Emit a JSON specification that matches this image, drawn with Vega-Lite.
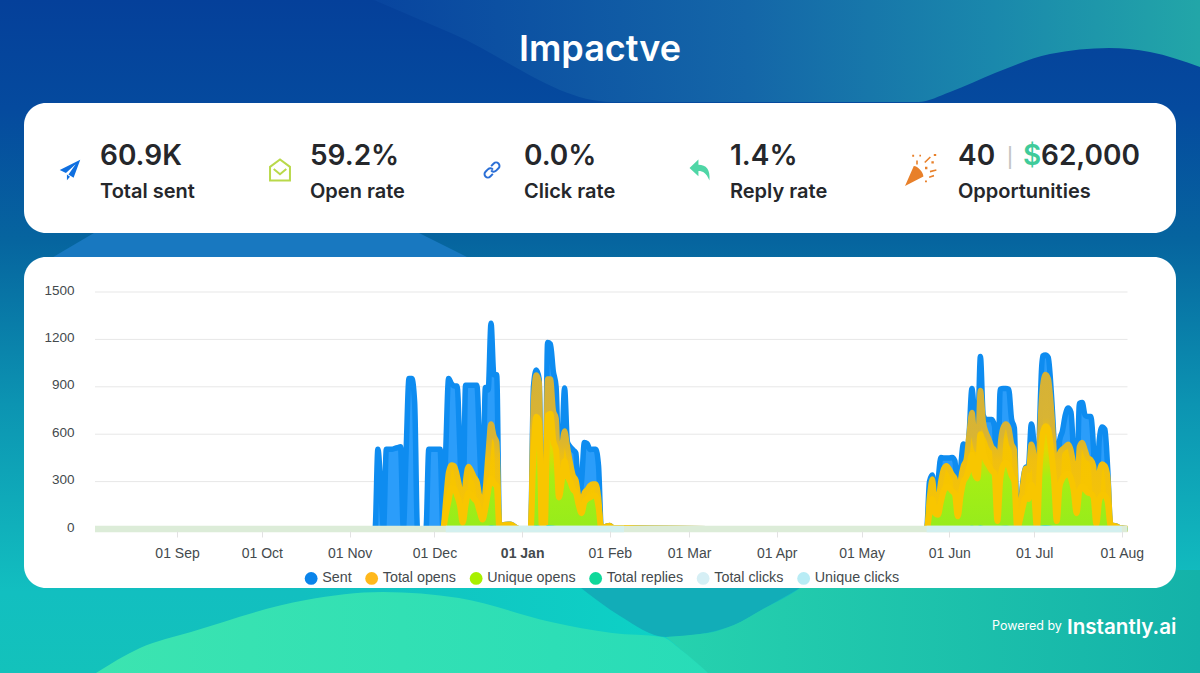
{"$schema":"https://vega.github.io/schema/vega-lite/v6.json","width":1200,"height":673,"padding":0,"autosize":{"type":"none"},"background":"#0a6aa8","config":{"view":{"stroke":null},"font":"Inter"},"resolve":{"scale":{"x":"independent","y":"independent","color":"independent"}},"layer":[
{"encoding":{"x":{"field":"x","type":"quantitative","axis":null,"scale":{"domain":[0,120],"range":[0,1200],"nice":false,"zero":false}},"y":{"field":"y","type":"quantitative","axis":null,"scale":{"domain":[0,67.3],"range":[0,673],"nice":false,"zero":false}},"y2":{"field":"y2"}},"layer":[
{"data":{"values":[{"x":0,"y":0,"y2":67.3},{"x":120,"y":0,"y2":67.3}]},"mark":{"type":"area","fill":{"gradient":"linear","x1":0,"y1":0,"x2":0,"y2":1,"stops":[{"offset":0,"color":"#05409a"},{"offset":0.16,"color":"#054a9e"},{"offset":0.36,"color":"#06659f"},{"offset":0.6,"color":"#0c94b2"},{"offset":0.88,"color":"#12bfc0"},{"offset":1,"color":"#13c2bb"}]}}},
{"data":{"values":[{"x":37.4,"y":0,"y2":0},{"x":45.1,"y":0,"y2":3.3},{"x":61.2,"y":0,"y2":10.2},{"x":91.8,"y":0,"y2":10.2},{"x":95,"y":0,"y2":9.2},{"x":99.5,"y":0,"y2":7.3},{"x":105,"y":0,"y2":5.4},{"x":110.9,"y":0,"y2":4.8},{"x":115,"y":0,"y2":5.2},{"x":120,"y":0,"y2":6.7}]},"mark":{"type":"area","interpolate":"monotone","fill":{"gradient":"linear","x1":0,"y1":0,"x2":1,"y2":0,"stops":[{"offset":0,"color":"#08459f"},{"offset":0.45,"color":"#1466a8"},{"offset":0.75,"color":"#1a88ac"},{"offset":1,"color":"#22a6a8"}]}}},
{"data":{"values":[{"x":4,"y":26.5,"y2":26.5},{"x":6,"y":25.3,"y2":26.5},{"x":9.9,"y":23,"y2":26.5},{"x":41.3,"y":23,"y2":26.5},{"x":46.7,"y":25.7,"y2":26.5},{"x":48,"y":26.5,"y2":26.5}]},"mark":{"type":"area","fill":"#1878c0"}},
{"data":{"values":[{"x":30,"y":57,"y2":67.3},{"x":68,"y":57,"y2":67.3}]},"mark":{"type":"area","fill":{"gradient":"linear","x1":0,"y1":0,"x2":1,"y2":0,"stops":[{"offset":0,"color":"#12bfc0"},{"offset":1,"color":"#0dd2c6"}]}}},
{"data":{"values":[{"x":58.1,"y":58,"y2":58.8},{"x":62,"y":58,"y2":61.6},{"x":66.6,"y":58,"y2":63.7},{"x":70,"y":58,"y2":63.4},{"x":73.4,"y":58,"y2":62.5},{"x":76.5,"y":58,"y2":60.8},{"x":80,"y":58,"y2":58.8}]},"mark":{"type":"area","interpolate":"monotone","fill":"#12adb8"}},
{"data":{"values":[{"x":66.6,"y":63.7,"y2":63.7},{"x":70,"y":63.4,"y2":66.6},{"x":70.8,"y":63.3,"y2":67.3},{"x":73.4,"y":62.5,"y2":67.3},{"x":76.5,"y":60.8,"y2":67.3},{"x":80,"y":58.8,"y2":67.3},{"x":82,"y":57,"y2":67.3},{"x":120,"y":57,"y2":67.3}]},"mark":{"type":"area","interpolate":"monotone","fill":{"gradient":"linear","x1":0,"y1":0,"x2":1,"y2":0,"stops":[{"offset":0,"color":"#26d2ae"},{"offset":1,"color":"#14b2a9"}]}}},
{"data":{"values":[{"x":9.6,"y":67.3,"y2":67.3},{"x":14,"y":64.8,"y2":67.3},{"x":19.1,"y":63.2,"y2":67.3},{"x":30.6,"y":60,"y2":67.3},{"x":38.3,"y":59.2,"y2":67.3},{"x":45.9,"y":59.8,"y2":67.3},{"x":55.1,"y":62.2,"y2":67.3},{"x":61.2,"y":63.3,"y2":67.3},{"x":66.2,"y":63.7,"y2":67.3},{"x":68,"y":64.9,"y2":67.3},{"x":70.8,"y":67.3,"y2":67.3}]},"mark":{"type":"area","interpolate":"monotone","fill":{"gradient":"linear","x1":0,"y1":0,"x2":1,"y2":0,"stops":[{"offset":0,"color":"#3ce4b0"},{"offset":1,"color":"#28dcb8"}]}}},
{"data":{"values":[{"panel":"Summary","left":2.4,"right":117.6,"top":10.3,"bottom":23.3},{"panel":"Chart","left":2.4,"right":117.6,"top":25.7,"bottom":58.8}]},"mark":{"type":"rect","fill":"#ffffff","cornerRadius":22},"encoding":{"x":{"field":"left","type":"quantitative","axis":null,"scale":{"domain":[0,120],"range":[0,1200],"nice":false,"zero":false}},"x2":{"field":"right"},"y":{"field":"top","type":"quantitative","axis":null,"scale":{"domain":[0,67.3],"range":[0,673],"nice":false,"zero":false}},"y2":{"field":"bottom"}}}
]},
{"data":{"values":[{"label":"Impactve"}]},"mark":{"type":"text","font":"Inter","fontSize":36,"fontWeight":600,"fill":"#ffffff","align":"center","baseline":"middle"},"encoding":{"text":{"field":"label"},"x":{"datum":60,"type":"quantitative","axis":null,"scale":{"domain":[0,120],"range":[0,1200],"nice":false,"zero":false}},"y":{"datum":5,"type":"quantitative","axis":null,"scale":{"domain":[0,67.3],"range":[0,673],"nice":false,"zero":false}}}},
{"data":{"values":[{"label":"Powered by"}]},"mark":{"type":"text","font":"Inter","fontSize":12.5,"fill":"#ffffff","align":"left","baseline":"middle"},"encoding":{"text":{"field":"label"},"x":{"datum":99.2,"type":"quantitative","axis":null,"scale":{"domain":[0,120],"range":[0,1200],"nice":false,"zero":false}},"y":{"datum":62.6,"type":"quantitative","axis":null,"scale":{"domain":[0,67.3],"range":[0,673],"nice":false,"zero":false}}}},
{"data":{"values":[{"label":"Instantly.ai"}]},"mark":{"type":"text","font":"Inter","fontSize":20.6,"fontWeight":600,"fill":"#ffffff","align":"left","baseline":"middle"},"encoding":{"text":{"field":"label"},"x":{"datum":106.7,"type":"quantitative","axis":null,"scale":{"domain":[0,120],"range":[0,1200],"nice":false,"zero":false}},"y":{"datum":62.8,"type":"quantitative","axis":null,"scale":{"domain":[0,67.3],"range":[0,673],"nice":false,"zero":false}}}},
{"encoding":{"x":{"field":"slot","type":"quantitative","axis":null,"scale":{"domain":[0,1,2,3,4,5,6,7],"range":[100,310,524,730,958,1007,1023,1041],"nice":false,"zero":false}},"y":{"datum":15.7,"type":"quantitative","axis":null,"scale":{"domain":[0,67.3],"range":[0,673],"nice":false,"zero":false}}},"layer":[
{"data":{"values":[{"slot":0,"text":"60.9K","tone":"ink"},{"slot":1,"text":"59.2%","tone":"ink"},{"slot":2,"text":"0.0%","tone":"ink"},{"slot":3,"text":"1.4%","tone":"ink"},{"slot":4,"text":"40","tone":"ink"},{"slot":6,"text":"$","tone":"money"},{"slot":7,"text":"62,000","tone":"ink"}]},"mark":{"type":"text","font":"Inter","fontSize":28,"fontWeight":600,"align":"left","baseline":"middle"},"encoding":{"text":{"field":"text"},"color":{"field":"tone","type":"nominal","legend":null,"scale":{"domain":["ink","money"],"range":["#25272b","#3fcb9a"]}}}},
{"data":{"values":[{"slot":5,"text":"|"}]},"mark":{"type":"text","font":"Liberation Sans","fontSize":23,"align":"left","baseline":"middle","fill":"#c4c4c4"},"encoding":{"text":{"field":"text"}}},
{"data":{"values":[{"slot":0,"text":"Total sent"},{"slot":1,"text":"Open rate"},{"slot":2,"text":"Click rate"},{"slot":3,"text":"Reply rate"},{"slot":4,"text":"Opportunities"}]},"mark":{"type":"text","font":"Inter","fontSize":20,"fontWeight":600,"align":"left","baseline":"middle","fill":"#25272b"},"encoding":{"text":{"field":"text"},"y":{"datum":19.2,"type":"quantitative","axis":null,"scale":{"domain":[0,67.3],"range":[0,673],"nice":false,"zero":false}}}}
]},
{"data":{"values":[{"metric":"Total sent","slot":0},{"metric":"Open rate","slot":1},{"metric":"Click rate","slot":2},{"metric":"Reply rate","slot":3},{"metric":"Opportunities","slot":4}]},"encoding":{"x":{"field":"slot","type":"quantitative","axis":null,"scale":{"domain":[0,1,2,3,4],"range":[70,280,492,700,921],"nice":false,"zero":false}},"y":{"datum":17,"type":"quantitative","axis":null,"scale":{"domain":[0,67.3],"range":[0,673],"nice":false,"zero":false}}},"layer":[
{"transform":[{"filter":"datum.slot===0"}],"mark":{"type":"point","filled":true,"opacity":1,"color":"#0f6fe0","size":420,"shape":"M1,-1 L-1,0 L-0.4,0.3 L0.55,-0.55 L-0.15,0.45 L0.35,0.75 Z M-0.3,0.45 L-0.3,1 L0,0.65 Z"}},
{"transform":[{"filter":"datum.slot===1"}],"mark":{"type":"point","filled":false,"opacity":1,"color":"#b9d94a","strokeWidth":2,"size":440,"shape":"M-0.95,-0.3 L0,-1 L0.95,-0.3 L0.95,1 L-0.95,1 Z M-0.6,-0.1 L0,0.4 L0.6,-0.1"}},
{"transform":[{"filter":"datum.slot===2"}],"mark":{"type":"point","filled":false,"opacity":1,"color":"#2b6fd6","strokeWidth":2,"size":300,"shape":"M-0.1,-0.45 L0.2,-0.75 A0.38,0.38 0 0 1 0.75,-0.2 L0.45,0.1 A0.38,0.38 0 0 1 -0.1,0.05 M0.1,0.45 L-0.2,0.75 A0.38,0.38 0 0 1 -0.75,0.2 L-0.45,-0.1 A0.38,0.38 0 0 1 0.1,-0.05"}},
{"transform":[{"filter":"datum.slot===3"}],"mark":{"type":"point","filled":true,"opacity":1,"color":"#4fd6a6","size":440,"shape":"M-1,-0.2 L-0.15,-1 L-0.15,-0.5 C0.6,-0.5 1,-0.05 0.9,1 C0.6,0.3 0.3,0.1 -0.15,0.1 L-0.15,0.6 Z"}},
{"transform":[{"filter":"datum.slot===4"}],"mark":{"type":"point","filled":true,"opacity":1,"color":"#e8802a","size":1024,"shape":"M-1,1 L-0.45,-0.25 C-0.2,-0.25 0.15,0.15 0.15,0.4 Z M-0.55,-0.95 h0.12 v0.12 h-0.12 Z M-0.3,-0.6 h0.1 v0.25 h-0.1 Z M-0.1,-0.95 h0.1 v0.1 h-0.1 Z M0.2,-0.5 L0.55,-0.85 L0.62,-0.78 L0.27,-0.43 Z M0.8,-1 h0.15 v0.12 h-0.15 Z M0.65,-0.55 h0.15 v0.15 h-0.15 Z M0.25,-0.2 h0.15 v0.15 h-0.15 Z M0.55,0.05 L0.95,-0.05 L0.97,0.05 L0.57,0.15 Z M0.5,0.4 L0.8,0.3 L0.82,0.4 L0.52,0.5 Z M0.25,0.65 h0.12 v0.12 h-0.12 Z"}}
]},
{"data":{"values":[
{"date":"2022-08-03","sent":0,"opens":0,"uniq":0,"replies":0,"clicks":0,"uclicks":0},
{"date":"2022-08-20","sent":0,"opens":0,"uniq":0,"replies":0,"clicks":0,"uclicks":0},
{"date":"2022-09-10","sent":0,"opens":0,"uniq":0,"replies":0,"clicks":0,"uclicks":0},
{"date":"2022-10-01","sent":0,"opens":0,"uniq":0,"replies":0,"clicks":0,"uclicks":0},
{"date":"2022-10-20","sent":0,"opens":0,"uniq":0,"replies":0,"clicks":0,"uclicks":0},
{"date":"2022-11-10","sent":0,"opens":0,"uniq":0,"replies":0,"clicks":0,"uclicks":0},
{"date":"2022-11-11","sent":505,"opens":0,"uniq":0,"replies":2,"clicks":0,"uclicks":0},
{"date":"2022-11-12","sent":280,"opens":0,"uniq":0,"replies":1,"clicks":0,"uclicks":0},
{"date":"2022-11-13","sent":0,"opens":0,"uniq":0,"replies":0,"clicks":0,"uclicks":0},
{"date":"2022-11-14","sent":505,"opens":0,"uniq":0,"replies":3,"clicks":0,"uclicks":0},
{"date":"2022-11-15","sent":505,"opens":0,"uniq":0,"replies":4,"clicks":0,"uclicks":0},
{"date":"2022-11-16","sent":505,"opens":0,"uniq":0,"replies":2,"clicks":0,"uclicks":0},
{"date":"2022-11-17","sent":510,"opens":0,"uniq":0,"replies":5,"clicks":0,"uclicks":0},
{"date":"2022-11-18","sent":515,"opens":0,"uniq":0,"replies":3,"clicks":0,"uclicks":0},
{"date":"2022-11-19","sent":520,"opens":0,"uniq":0,"replies":2,"clicks":0,"uclicks":0},
{"date":"2022-11-20","sent":0,"opens":0,"uniq":0,"replies":0,"clicks":0,"uclicks":0},
{"date":"2022-11-21","sent":500,"opens":0,"uniq":0,"replies":3,"clicks":0,"uclicks":0},
{"date":"2022-11-22","sent":952,"opens":0,"uniq":0,"replies":6,"clicks":0,"uclicks":0},
{"date":"2022-11-23","sent":952,"opens":0,"uniq":0,"replies":5,"clicks":0,"uclicks":0},
{"date":"2022-11-24","sent":800,"opens":0,"uniq":0,"replies":4,"clicks":0,"uclicks":0},
{"date":"2022-11-25","sent":0,"opens":0,"uniq":0,"replies":0,"clicks":0,"uclicks":0},
{"date":"2022-11-28","sent":0,"opens":0,"uniq":0,"replies":0,"clicks":0,"uclicks":0},
{"date":"2022-11-29","sent":505,"opens":0,"uniq":0,"replies":3,"clicks":0,"uclicks":0},
{"date":"2022-11-30","sent":505,"opens":0,"uniq":0,"replies":4,"clicks":0,"uclicks":0},
{"date":"2022-12-01","sent":505,"opens":0,"uniq":0,"replies":2,"clicks":0,"uclicks":0},
{"date":"2022-12-02","sent":505,"opens":0,"uniq":0,"replies":3,"clicks":0,"uclicks":0},
{"date":"2022-12-03","sent":505,"opens":0,"uniq":0,"replies":4,"clicks":0,"uclicks":0},
{"date":"2022-12-04","sent":0,"opens":0,"uniq":0,"replies":0,"clicks":0,"uclicks":0},
{"date":"2022-12-05","sent":500,"opens":180,"uniq":90,"replies":4,"clicks":0,"uclicks":0},
{"date":"2022-12-06","sent":952,"opens":360,"uniq":180,"replies":8,"clicks":0,"uclicks":0},
{"date":"2022-12-07","sent":920,"opens":405,"uniq":260,"replies":9,"clicks":0,"uclicks":0},
{"date":"2022-12-08","sent":905,"opens":400,"uniq":255,"replies":7,"clicks":0,"uclicks":0},
{"date":"2022-12-09","sent":905,"opens":340,"uniq":210,"replies":6,"clicks":0,"uclicks":0},
{"date":"2022-12-10","sent":500,"opens":250,"uniq":150,"replies":4,"clicks":0,"uclicks":0},
{"date":"2022-12-11","sent":0,"opens":80,"uniq":40,"replies":1,"clicks":0,"uclicks":0},
{"date":"2022-12-12","sent":910,"opens":300,"uniq":150,"replies":7,"clicks":0,"uclicks":0},
{"date":"2022-12-13","sent":910,"opens":395,"uniq":230,"replies":10,"clicks":0,"uclicks":0},
{"date":"2022-12-14","sent":910,"opens":370,"uniq":215,"replies":8,"clicks":0,"uclicks":0},
{"date":"2022-12-15","sent":910,"opens":330,"uniq":190,"replies":6,"clicks":0,"uclicks":0},
{"date":"2022-12-16","sent":910,"opens":300,"uniq":170,"replies":7,"clicks":0,"uclicks":0},
{"date":"2022-12-17","sent":500,"opens":200,"uniq":110,"replies":3,"clicks":0,"uclicks":0},
{"date":"2022-12-18","sent":120,"opens":120,"uniq":60,"replies":1,"clicks":0,"uclicks":0},
{"date":"2022-12-19","sent":895,"opens":250,"uniq":130,"replies":8,"clicks":0,"uclicks":0},
{"date":"2022-12-20","sent":880,"opens":480,"uniq":240,"replies":9,"clicks":0,"uclicks":0},
{"date":"2022-12-21","sent":1303,"opens":665,"uniq":320,"replies":14,"clicks":0,"uclicks":0},
{"date":"2022-12-22","sent":976,"opens":590,"uniq":290,"replies":11,"clicks":0,"uclicks":0},
{"date":"2022-12-23","sent":976,"opens":550,"uniq":270,"replies":10,"clicks":0,"uclicks":0},
{"date":"2022-12-24","sent":0,"opens":0,"uniq":0,"replies":0,"clicks":0,"uclicks":0},
{"date":"2022-12-25","sent":25,"opens":25,"uniq":8,"replies":0,"clicks":0,"uclicks":0},
{"date":"2022-12-26","sent":28,"opens":28,"uniq":9,"replies":0,"clicks":0,"uclicks":0},
{"date":"2022-12-27","sent":30,"opens":30,"uniq":10,"replies":0,"clicks":0,"uclicks":0},
{"date":"2022-12-28","sent":30,"opens":30,"uniq":10,"replies":1,"clicks":0,"uclicks":0},
{"date":"2022-12-29","sent":20,"opens":20,"uniq":7,"replies":0,"clicks":0,"uclicks":0},
{"date":"2022-12-30","sent":8,"opens":8,"uniq":3,"replies":0,"clicks":0,"uclicks":0},
{"date":"2022-12-31","sent":0,"opens":0,"uniq":0,"replies":0,"clicks":0,"uclicks":0},
{"date":"2023-01-04","sent":0,"opens":0,"uniq":0,"replies":0,"clicks":0,"uclicks":0},
{"date":"2023-01-05","sent":900,"opens":800,"uniq":480,"replies":9,"clicks":0,"uclicks":0},
{"date":"2023-01-06","sent":1006,"opens":975,"uniq":710,"replies":15,"clicks":0,"uclicks":0},
{"date":"2023-01-07","sent":950,"opens":930,"uniq":680,"replies":12,"clicks":0,"uclicks":0},
{"date":"2023-01-08","sent":0,"opens":0,"uniq":0,"replies":0,"clicks":0,"uclicks":0},
{"date":"2023-01-09","sent":0,"opens":0,"uniq":0,"replies":0,"clicks":0,"uclicks":0},
{"date":"2023-01-10","sent":1180,"opens":950,"uniq":720,"replies":16,"clicks":0,"uclicks":0},
{"date":"2023-01-11","sent":1170,"opens":950,"uniq":730,"replies":14,"clicks":0,"uclicks":0},
{"date":"2023-01-12","sent":1000,"opens":750,"uniq":560,"replies":12,"clicks":0,"uclicks":0},
{"date":"2023-01-13","sent":900,"opens":700,"uniq":500,"replies":10,"clicks":0,"uclicks":0},
{"date":"2023-01-14","sent":400,"opens":300,"uniq":200,"replies":4,"clicks":0,"uclicks":0},
{"date":"2023-01-15","sent":500,"opens":500,"uniq":300,"replies":5,"clicks":0,"uclicks":0},
{"date":"2023-01-16","sent":892,"opens":620,"uniq":430,"replies":10,"clicks":0,"uclicks":0},
{"date":"2023-01-17","sent":550,"opens":520,"uniq":340,"replies":8,"clicks":0,"uclicks":0},
{"date":"2023-01-18","sent":520,"opens":420,"uniq":300,"replies":7,"clicks":0,"uclicks":0},
{"date":"2023-01-19","sent":500,"opens":340,"uniq":250,"replies":6,"clicks":0,"uclicks":0},
{"date":"2023-01-20","sent":480,"opens":310,"uniq":230,"replies":6,"clicks":0,"uclicks":0},
{"date":"2023-01-21","sent":200,"opens":200,"uniq":150,"replies":2,"clicks":0,"uclicks":0},
{"date":"2023-01-22","sent":300,"opens":150,"uniq":100,"replies":2,"clicks":0,"uclicks":0},
{"date":"2023-01-23","sent":547,"opens":230,"uniq":170,"replies":5,"clicks":0,"uclicks":0},
{"date":"2023-01-24","sent":540,"opens":250,"uniq":190,"replies":6,"clicks":0,"uclicks":0},
{"date":"2023-01-25","sent":503,"opens":275,"uniq":200,"replies":5,"clicks":0,"uclicks":0},
{"date":"2023-01-26","sent":505,"opens":285,"uniq":210,"replies":6,"clicks":0,"uclicks":0},
{"date":"2023-01-27","sent":505,"opens":285,"uniq":210,"replies":5,"clicks":0,"uclicks":0},
{"date":"2023-01-28","sent":400,"opens":200,"uniq":140,"replies":3,"clicks":0,"uclicks":0},
{"date":"2023-01-29","sent":0,"opens":0,"uniq":0,"replies":0,"clicks":0,"uclicks":0},
{"date":"2023-01-30","sent":12,"opens":12,"uniq":4,"replies":0,"clicks":0,"uclicks":0},
{"date":"2023-02-01","sent":22,"opens":22,"uniq":8,"replies":0,"clicks":0,"uclicks":0},
{"date":"2023-02-02","sent":10,"opens":10,"uniq":3,"replies":0,"clicks":0,"uclicks":0},
{"date":"2023-02-06","sent":8,"opens":8,"uniq":3,"replies":0,"clicks":0,"uclicks":0},
{"date":"2023-02-10","sent":6,"opens":6,"uniq":2,"replies":0,"clicks":0,"uclicks":0},
{"date":"2023-02-15","sent":5,"opens":5,"uniq":2,"replies":0,"clicks":0,"uclicks":0},
{"date":"2023-02-25","sent":3,"opens":3,"uniq":1,"replies":0,"clicks":0,"uclicks":0},
{"date":"2023-03-15","sent":1,"opens":1,"uniq":0,"replies":0,"clicks":0,"uclicks":0},
{"date":"2023-04-10","sent":0,"opens":0,"uniq":0,"replies":0,"clicks":0,"uclicks":0},
{"date":"2023-05-10","sent":0,"opens":0,"uniq":0,"replies":0,"clicks":0,"uclicks":0},
{"date":"2023-05-24","sent":0,"opens":0,"uniq":0,"replies":0,"clicks":0,"uclicks":0},
{"date":"2023-05-25","sent":300,"opens":200,"uniq":100,"replies":3,"clicks":0,"uclicks":0},
{"date":"2023-05-26","sent":342,"opens":316,"uniq":190,"replies":5,"clicks":0,"uclicks":0},
{"date":"2023-05-27","sent":200,"opens":170,"uniq":100,"replies":2,"clicks":0,"uclicks":0},
{"date":"2023-05-28","sent":300,"opens":180,"uniq":90,"replies":3,"clicks":0,"uclicks":0},
{"date":"2023-05-29","sent":452,"opens":300,"uniq":170,"replies":5,"clicks":0,"uclicks":0},
{"date":"2023-05-30","sent":450,"opens":380,"uniq":240,"replies":6,"clicks":0,"uclicks":0},
{"date":"2023-05-31","sent":450,"opens":400,"uniq":265,"replies":6,"clicks":0,"uclicks":0},
{"date":"2023-06-01","sent":450,"opens":380,"uniq":260,"replies":5,"clicks":0,"uclicks":0},
{"date":"2023-06-02","sent":452,"opens":345,"uniq":240,"replies":6,"clicks":0,"uclicks":0},
{"date":"2023-06-03","sent":430,"opens":320,"uniq":220,"replies":5,"clicks":0,"uclicks":0},
{"date":"2023-06-04","sent":150,"opens":130,"uniq":80,"replies":1,"clicks":0,"uclicks":0},
{"date":"2023-06-05","sent":380,"opens":310,"uniq":210,"replies":5,"clicks":0,"uclicks":0},
{"date":"2023-06-06","sent":538,"opens":400,"uniq":300,"replies":7,"clicks":0,"uclicks":0},
{"date":"2023-06-07","sent":450,"opens":440,"uniq":330,"replies":6,"clicks":0,"uclicks":0},
{"date":"2023-06-08","sent":600,"opens":600,"uniq":380,"replies":8,"clicks":0,"uclicks":0},
{"date":"2023-06-09","sent":889,"opens":737,"uniq":470,"replies":12,"clicks":0,"uclicks":0},
{"date":"2023-06-10","sent":700,"opens":560,"uniq":350,"replies":9,"clicks":0,"uclicks":0},
{"date":"2023-06-11","sent":600,"opens":500,"uniq":320,"replies":7,"clicks":0,"uclicks":0},
{"date":"2023-06-12","sent":1092,"opens":876,"uniq":600,"replies":15,"clicks":0,"uclicks":0},
{"date":"2023-06-13","sent":720,"opens":680,"uniq":480,"replies":10,"clicks":0,"uclicks":0},
{"date":"2023-06-14","sent":693,"opens":610,"uniq":430,"replies":9,"clicks":0,"uclicks":0},
{"date":"2023-06-15","sent":693,"opens":570,"uniq":400,"replies":9,"clicks":0,"uclicks":0},
{"date":"2023-06-16","sent":693,"opens":520,"uniq":370,"replies":8,"clicks":0,"uclicks":0},
{"date":"2023-06-17","sent":650,"opens":500,"uniq":350,"replies":8,"clicks":0,"uclicks":0},
{"date":"2023-06-18","sent":100,"opens":90,"uniq":50,"replies":1,"clicks":0,"uclicks":0},
{"date":"2023-06-19","sent":885,"opens":520,"uniq":310,"replies":9,"clicks":0,"uclicks":0},
{"date":"2023-06-20","sent":889,"opens":640,"uniq":400,"replies":11,"clicks":0,"uclicks":0},
{"date":"2023-06-21","sent":889,"opens":665,"uniq":420,"replies":12,"clicks":0,"uclicks":0},
{"date":"2023-06-22","sent":885,"opens":640,"uniq":400,"replies":10,"clicks":0,"uclicks":0},
{"date":"2023-06-23","sent":696,"opens":540,"uniq":340,"replies":8,"clicks":0,"uclicks":0},
{"date":"2023-06-24","sent":640,"opens":500,"uniq":300,"replies":7,"clicks":0,"uclicks":0},
{"date":"2023-06-25","sent":0,"opens":0,"uniq":0,"replies":0,"clicks":0,"uclicks":0},
{"date":"2023-06-26","sent":120,"opens":100,"uniq":60,"replies":1,"clicks":0,"uclicks":0},
{"date":"2023-06-27","sent":300,"opens":280,"uniq":140,"replies":3,"clicks":0,"uclicks":0},
{"date":"2023-06-28","sent":389,"opens":385,"uniq":200,"replies":5,"clicks":0,"uclicks":0},
{"date":"2023-06-29","sent":400,"opens":370,"uniq":190,"replies":5,"clicks":0,"uclicks":0},
{"date":"2023-06-30","sent":664,"opens":537,"uniq":280,"replies":8,"clicks":0,"uclicks":0},
{"date":"2023-07-01","sent":500,"opens":450,"uniq":220,"replies":6,"clicks":0,"uclicks":0},
{"date":"2023-07-02","sent":0,"opens":0,"uniq":0,"replies":0,"clicks":0,"uclicks":0},
{"date":"2023-07-03","sent":700,"opens":600,"uniq":400,"replies":9,"clicks":0,"uclicks":0},
{"date":"2023-07-04","sent":1095,"opens":900,"uniq":600,"replies":14,"clicks":0,"uclicks":0},
{"date":"2023-07-05","sent":1101,"opens":978,"uniq":650,"replies":16,"clicks":0,"uclicks":0},
{"date":"2023-07-06","sent":1085,"opens":950,"uniq":630,"replies":15,"clicks":0,"uclicks":0},
{"date":"2023-07-07","sent":880,"opens":780,"uniq":500,"replies":12,"clicks":0,"uclicks":0},
{"date":"2023-07-08","sent":560,"opens":500,"uniq":320,"replies":7,"clicks":0,"uclicks":0},
{"date":"2023-07-09","sent":100,"opens":90,"uniq":50,"replies":1,"clicks":0,"uclicks":0},
{"date":"2023-07-10","sent":560,"opens":480,"uniq":270,"replies":7,"clicks":0,"uclicks":0},
{"date":"2023-07-11","sent":620,"opens":506,"uniq":320,"replies":8,"clicks":0,"uclicks":0},
{"date":"2023-07-12","sent":720,"opens":520,"uniq":340,"replies":9,"clicks":0,"uclicks":0},
{"date":"2023-07-13","sent":766,"opens":537,"uniq":350,"replies":10,"clicks":0,"uclicks":0},
{"date":"2023-07-14","sent":740,"opens":500,"uniq":320,"replies":9,"clicks":0,"uclicks":0},
{"date":"2023-07-15","sent":450,"opens":390,"uniq":240,"replies":6,"clicks":0,"uclicks":0},
{"date":"2023-07-16","sent":200,"opens":170,"uniq":100,"replies":2,"clicks":0,"uclicks":0},
{"date":"2023-07-17","sent":795,"opens":520,"uniq":240,"replies":9,"clicks":0,"uclicks":0},
{"date":"2023-07-18","sent":800,"opens":547,"uniq":270,"replies":10,"clicks":0,"uclicks":0},
{"date":"2023-07-19","sent":720,"opens":500,"uniq":250,"replies":8,"clicks":0,"uclicks":0},
{"date":"2023-07-20","sent":712,"opens":450,"uniq":230,"replies":8,"clicks":0,"uclicks":0},
{"date":"2023-07-21","sent":712,"opens":440,"uniq":225,"replies":7,"clicks":0,"uclicks":0},
{"date":"2023-07-22","sent":500,"opens":400,"uniq":200,"replies":5,"clicks":0,"uclicks":0},
{"date":"2023-07-23","sent":60,"opens":50,"uniq":30,"replies":1,"clicks":0,"uclicks":0},
{"date":"2023-07-24","sent":560,"opens":360,"uniq":180,"replies":6,"clicks":0,"uclicks":0},
{"date":"2023-07-25","sent":646,"opens":411,"uniq":215,"replies":7,"clicks":0,"uclicks":0},
{"date":"2023-07-26","sent":630,"opens":400,"uniq":210,"replies":7,"clicks":0,"uclicks":0},
{"date":"2023-07-27","sent":380,"opens":330,"uniq":170,"replies":4,"clicks":0,"uclicks":0},
{"date":"2023-07-28","sent":30,"opens":30,"uniq":15,"replies":0,"clicks":0,"uclicks":0},
{"date":"2023-07-29","sent":22,"opens":22,"uniq":8,"replies":0,"clicks":0,"uclicks":0},
{"date":"2023-07-30","sent":20,"opens":20,"uniq":7,"replies":0,"clicks":0,"uclicks":0},
{"date":"2023-07-31","sent":10,"opens":10,"uniq":4,"replies":0,"clicks":0,"uclicks":0},
{"date":"2023-08-01","sent":5,"opens":5,"uniq":2,"replies":0,"clicks":0,"uclicks":0},
{"date":"2023-08-03","sent":2,"opens":2,"uniq":1,"replies":0,"clicks":0,"uclicks":0}
]},"encoding":{"x":{"field":"date","type":"temporal","axis":null,"scale":{"type":"utc","domain":["2022-08-03","2023-08-03"],"range":[95,1127.5],"nice":false}}},"layer":[
{"data":{"values":[{"level":300,"from":"2022-08-03","to":"2023-08-03"},{"level":600,"from":"2022-08-03","to":"2023-08-03"},{"level":900,"from":"2022-08-03","to":"2023-08-03"},{"level":1200,"from":"2022-08-03","to":"2023-08-03"},{"level":1500,"from":"2022-08-03","to":"2023-08-03"}]},"mark":{"type":"rule","color":"#e7e7e7","strokeWidth":1},"encoding":{"x":{"field":"from","type":"temporal","axis":null,"scale":{"type":"utc","domain":["2022-08-03","2023-08-03"],"range":[95,1127.5],"nice":false}},"x2":{"field":"to"},"y":{"field":"level","type":"quantitative","axis":null,"scale":{"domain":[0,1500],"range":[529,292],"nice":false}}}},
{"mark":{"type":"area","interpolate":"monotone","fill":"#2b9dfa"},"encoding":{"y":{"field":"sent","type":"quantitative","axis":null,"scale":{"domain":[0,1500],"range":[529,292],"nice":false}}}},
{"mark":{"type":"line","interpolate":"monotone","stroke":"#0e8cf0","strokeWidth":5.5,"strokeJoin":"round"},"encoding":{"y":{"field":"sent","type":"quantitative","axis":null,"scale":{"domain":[0,1500],"range":[529,292],"nice":false}}}},
{"mark":{"type":"area","interpolate":"monotone","fill":{"gradient":"linear","x1":0,"y1":0,"x2":0,"y2":1,"stops":[{"offset":0,"color":"#d6b236"},{"offset":0.28,"color":"#d8b434"},{"offset":0.42,"color":"#f6c400"},{"offset":1,"color":"#f8c600"}]}},"encoding":{"y":{"field":"opens","type":"quantitative","axis":null,"scale":{"domain":[0,1500],"range":[529,292],"nice":false}}}},
{"mark":{"type":"line","interpolate":"monotone","stroke":{"gradient":"linear","x1":0,"y1":0,"x2":0,"y2":1,"stops":[{"offset":0,"color":"#d6b236"},{"offset":0.4,"color":"#d8b434"},{"offset":0.56,"color":"#f0bf10"},{"offset":1,"color":"#f8c600"}]},"strokeWidth":5.5,"strokeJoin":"round"},"encoding":{"y":{"field":"opens","type":"quantitative","axis":null,"scale":{"domain":[0,1500],"range":[529,292],"nice":false}}}},
{"mark":{"type":"area","interpolate":"monotone","fill":{"gradient":"linear","x1":0,"y1":0,"x2":0,"y2":1,"stops":[{"offset":0,"color":"#f8c600"},{"offset":0.3,"color":"#e4d800"},{"offset":0.55,"color":"#a6ee14"},{"offset":1,"color":"#96ec1c"}]}},"encoding":{"y":{"field":"uniq","type":"quantitative","axis":null,"scale":{"domain":[0,1500],"range":[529,292],"nice":false}}}},
{"mark":{"type":"line","interpolate":"monotone","stroke":"#f8c600","strokeWidth":6,"strokeJoin":"round"},"encoding":{"y":{"field":"uniq","type":"quantitative","axis":null,"scale":{"domain":[0,1500],"range":[529,292],"nice":false}}}},
{"mark":{"type":"line","interpolate":"monotone","stroke":"#0fd89a","strokeWidth":3},"encoding":{"y":{"field":"replies","type":"quantitative","axis":null,"scale":{"domain":[0,1500],"range":[529,292],"nice":false}}}},
{"mark":{"type":"line","interpolate":"monotone","stroke":"#dcecd8","strokeWidth":6.5},"encoding":{"y":{"field":"clicks","type":"quantitative","axis":null,"scale":{"domain":[0,1500],"range":[529,292],"nice":false}}}},
{"transform":[{"filter":"datum.date>=time('2022-12-05') && datum.date<=time('2023-02-06')"}],"mark":{"type":"line","interpolate":"monotone","stroke":"#d3f0ef","strokeWidth":6.5},"encoding":{"y":{"field":"uclicks","type":"quantitative","axis":null,"scale":{"domain":[0,1500],"range":[529,292],"nice":false}}}},
{"transform":[{"filter":"datum.date>=time('2023-05-24') && datum.date<=time('2023-08-01')"}],"mark":{"type":"line","interpolate":"monotone","stroke":"#d3f0ef","strokeWidth":6.5},"encoding":{"y":{"field":"uclicks","type":"quantitative","axis":null,"scale":{"domain":[0,1500],"range":[529,292],"nice":false}}}},
{"data":{"values":[{"series":"Sent","date":"2022-08-03"},{"series":"Total opens","date":"2022-08-03"},{"series":"Unique opens","date":"2022-08-03"},{"series":"Total replies","date":"2022-08-03"},{"series":"Total clicks","date":"2022-08-03"},{"series":"Unique clicks","date":"2022-08-03"}]},"mark":{"type":"circle","opacity":0},"encoding":{"y":{"datum":0,"type":"quantitative","axis":null,"scale":{"domain":[0,1500],"range":[529,292],"nice":false}},"color":{"field":"series","type":"nominal","sort":null,"scale":{"domain":["Sent","Total opens","Unique opens","Total replies","Total clicks","Unique clicks"],"range":["#0a84ea","#ffb81c","#a8f000","#0fd89a","#d6eff5","#b8ecf5"]},"legend":{"title":null,"orient":"none","legendX":304,"legendY":571,"direction":"horizontal","columns":6,"symbolType":"circle","symbolSize":165,"symbolOpacity":1,"symbolStrokeWidth":0,"labelFont":"Liberation Sans","labelFontSize":14.3,"labelColor":"#444a4d","labelOffset":4,"columnPadding":12.5,"padding":0}}}}
]},
{"data":{"values":[{"level":0,"from":"2022-08-03"},{"level":1500,"from":"2023-08-03"}]},"mark":{"type":"rule","opacity":0},"encoding":{"x":{"field":"from","type":"temporal","scale":{"type":"utc","domain":["2022-08-03","2023-08-03"],"range":[95,1127.5],"nice":false},"axis":{"title":null,"orient":"bottom","offset":-142,"zindex":1,"domain":false,"grid":false,"tickCount":{"interval":"month","step":1},"tickSize":6,"tickColor":"#e2e2e2","format":"%d %b","labelFont":"Liberation Sans","labelFontSize":14,"labelColor":"#444a4d","labelPadding":9,"labelOverlap":false,"labelFlush":false,"labelFontWeight":{"expr":"utcmonth(datum.value)===0 ? 'bold' : 'normal'"}}},"y":{"field":"level","type":"quantitative","scale":{"domain":[0,1500],"range":[529,292],"nice":false},"axis":{"title":null,"orient":"left","offset":-80,"zindex":1,"domain":false,"ticks":false,"grid":false,"values":[0,300,600,900,1200,1500],"format":"d","labelFont":"Liberation Sans","labelFontSize":13.5,"labelColor":"#444a4d","labelPadding":6,"labelOffset":-2}}}}
]}
